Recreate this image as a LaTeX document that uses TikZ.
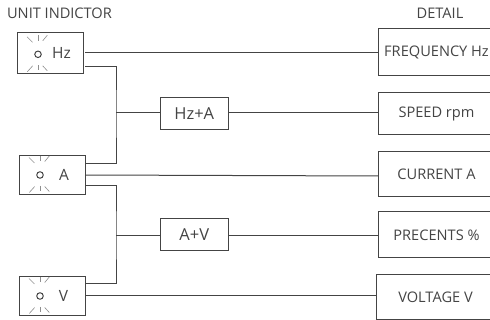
\documentclass[tikz,border=0pt]{standalone}
\usepackage{fontspec}
\setmainfont{Open Sans}
\usepackage{xcolor}
\usetikzlibrary{positioning}
\definecolor{ink}{HTML}{444444}
\begin{document}
\begin{tikzpicture}[x=1pt, y=-1pt,
    lbl/.style={font=\fontsize{14.6}{16}\selectfont, text=ink, inner sep=0pt},
    unitbox/.style={draw=ink, line width=1pt, minimum width=66pt, inner sep=0pt},
    mixbox/.style={draw=ink, line width=1pt, minimum width=67.5pt, minimum height=32pt, lbl, font=\fontsize{16.5}{18}\selectfont},
    detail/.style={draw=ink, line width=1pt, minimum width=116pt, lbl},
    wire/.style={draw=ink, line width=1pt},
    lamp/.style={circle, draw=ink, line width=1pt, minimum size=6.5pt, inner sep=0pt},
    ray/.style={draw=ink!60, line width=0.6pt}]
    \useasboundingbox (0,0) rectangle (490,320);
    \clip (0,0) rectangle (490,320);
    \node[lbl] (unithead) at (59.5,13) {UNIT INDICTOR};
    \node[lbl] (dethead) at (440,13) {DETAIL};
    % indicator boxes with their lamps
    \node[unitbox, minimum height=41pt] (hz) at (50.25,53.5) {};
    \node[unitbox, minimum height=39pt] (a) at (52,175.5) {};
    \node[unitbox, minimum height=39pt] (v) at (52,296.5) {};
    \node[lbl, font=\fontsize{15.5}{17}\selectfont] (hztxt) at (61.5,53) {Hz};
    \node[lbl, font=\fontsize{15.5}{17}\selectfont] (atxt) at (64,175) {A};
    \node[lbl, font=\fontsize{15.5}{17}\selectfont] (vtxt) at (63.5,295.5) {V};
    \foreach \n/\x/\y in {hz/38/54.3, a/40/175, v/40/296} {
      \node[lamp] (lamp\n) at (\x,\y) {};
      \begin{scope}[shift={(\x,\y)}]
        \draw[ray] (-11,-17.5) -- (-5.5,-12);
        \draw[ray] (0,-19) -- (0,-13.5);
        \draw[ray] (4.7,-13.5) -- (9.3,-19);
        \draw[ray] (-10.7,17.5) -- (-5.3,11.5);
        \draw[ray] (0,11) -- (0,16);
        \draw[ray] (4.7,11.5) -- (9.3,16.5);
      \end{scope}
    }
    % combined keys
    \node[mixbox] (hza) at (194.25,114) {Hz+A};
    \node[mixbox] (av) at (194.25,235) {A+V};
    % detail column runs off the right edge
    \node[detail, minimum height=46.5pt] (freq) at (436.5,52.25) {FREQUENCY Hz};
    \node[detail, minimum height=42.5pt] (speed) at (436.5,113.75) {SPEED rpm};
    \node[detail, minimum height=45pt] (curr) at (436.5,174.5) {CURRENT A};
    \node[detail, minimum height=46pt] (prec) at (436.5,235) {PRECENTS \%};
    \node[detail, minimum width=118pt, minimum height=45pt] (volt) at (435.5,297.5) {VOLTAGE V};
    % free wire ends, just clear of the boxes
    \coordinate (hzhi) at (85,53);
    \coordinate (hzlo) at (85,66.5);
    \coordinate (ain) at (85,164);
    \coordinate (ahi) at (85,175);
    \coordinate (alo) at (85,185.5);
    \coordinate (vin) at (85,284);
    \coordinate (vhi) at (85,295.5);
    \coordinate (busa) at (116,113);
    \coordinate (busb) at (116,236);
    \coordinate (currin) at (378.5,176);
    \draw[wire] (hzhi) -- (freq.west |- hzhi);
    \draw[wire] (hzlo) -| (busa) |- (ain);
    \draw[wire] (busa) -- (hza.west |- busa);
    \draw[wire] (hza.east |- busa) -- (speed.west |- busa);
    \draw[wire] (ahi) -- (currin);
    \draw[wire] (alo) -| (busb) |- (vin);
    \draw[wire] (busb) -- (av.west |- busb);
    \draw[wire] (av.east |- busb) -- (prec.west |- busb);
    \draw[wire] (vhi) -- (volt.west |- vhi);
\end{tikzpicture}
\end{document}
